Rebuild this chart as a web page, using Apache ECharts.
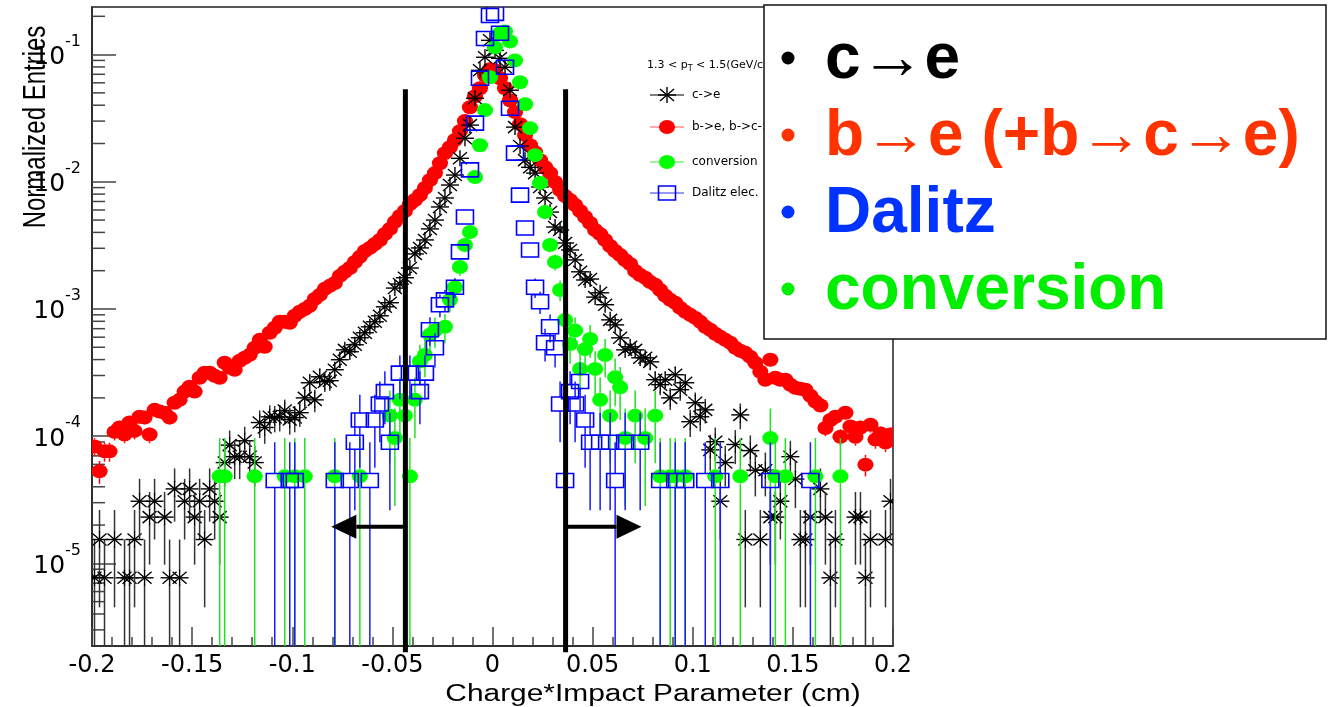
<!DOCTYPE html>
<html>
<head>
<meta charset="utf-8">
<title>Charge*Impact Parameter</title>
<script src="https://cdn.jsdelivr.net/npm/echarts@6/dist/echarts.min.js"></script>
<style>
    html, body { margin: 0; padding: 0; background: #fff; }
    #chart { width: 1331px; height: 707px; }
</style>
</head>
<body>
<div id="chart"></div>
<script>
// 160 bins of 0.0025 cm between -0.2 and 0.2
var binWidth = 0.0025;
var xRange = [-0.2, 0.2];
var yRange = [2.24e-6, 0.2367];

// c->e (black stars)
var charmValues = [
    7.7e-6, 1.54e-5, 7.7e-6, null, 1.54e-5, null, 7.7e-6, 7.7e-6, 1.54e-5, 3.08e-5,
    7.7e-6, 2.31e-5, 3.08e-5, null, 2.31e-5, 7.7e-6, 3.85e-5, 7.7e-6, 3.08e-5, 3.85e-5,
    2.31e-5, 3.08e-5, 1.54e-5, 3.85e-5, 3.08e-5, 2.31e-5, 6.2e-5, 8.5e-5, 6.9e-5, 6.9e-5,
    9.2e-5, 6.9e-5, 6.2e-5, 1.28e-4, 1.17e-4, 1.42e-4, 1.40e-4, 1.42e-4, 1.59e-4, 1.35e-4,
    1.40e-4, 1.53e-4, 2.0e-4, 2.63e-4, 1.93e-4, 2.93e-4, 2.68e-4, 2.73e-4, 3.33e-4, 3.99e-4,
    4.77e-4, 4.61e-4, 5.23e-4, 5.94e-4, 6.5e-4, 7.24e-4, 7.93e-4, 8.84e-4, 1.04e-3, 1.12e-3,
    1.46e-3, 1.57e-3, 1.76e-3, 2.10e-3, 2.71e-3, 3.02e-3, 3.49e-3, 4.26e-3, 5.0e-3, 6.34e-3,
    7.46e-3, 9.43e-3, 1.13e-2, 1.53e-2, 2.2e-2, 2.79e-2, 4.54e-2, 7.52e-2, 9.53e-2, 0.1295,
    0.108, 9.35e-2, 7.95e-2, 5.25e-2, 2.69e-2, 1.91e-2, 1.48e-2, 1.30e-2, 1.17e-2, 9.1e-3,
    7.46e-3, 5.78e-3, 4.41e-3, 4.18e-3, 3.30e-3, 2.91e-3, 2.43e-3, 1.96e-3, 1.69e-3, 1.72e-3,
    1.24e-3, 1.34e-3, 1.08e-3, 8.21e-4, 7.5e-4, 5.93e-4, 4.77e-4, 5.04e-4, 4.77e-4, 4.13e-4,
    4.13e-4, 3.84e-4, 2.78e-4, 2.54e-4, 2.78e-4, 2.0e-4, 3.04e-4, 2.32e-4, 2.63e-4, 1.30e-4,
    1.83e-4, 1.42e-4, 1.61e-4, 7.8e-5, 9.05e-5, 3.08e-5, 6.2e-5, null, 8.6e-5, 1.47e-4,
    1.54e-5, 7.7e-5, 5.4e-5, 1.54e-5, 5.4e-5, 2.31e-5, 2.31e-5, 3.08e-5, null, 6.9e-5,
    4.6e-5, 1.54e-5, 1.54e-5, 2.31e-5, null, 3.85e-5, 2.31e-5, 7.7e-6, 1.54e-5, null,
    null, null, 2.31e-5, 2.31e-5, 7.7e-6, 1.54e-5, null, null, 1.54e-5, 3.08e-5
];

// b->e, b->c->e (red circles)
var beautyValues = [
    8.3e-5, 5.3e-5, 7.6e-5, 7.6e-5, 1.08e-4, 1.17e-4, 1.03e-4, 1.28e-4, 1.10e-4, 1.42e-4,
    1.40e-4, 1.03e-4, 1.61e-4, 1.56e-4, 1.53e-4, 1.40e-4, 1.83e-4, 1.93e-4, 2.24e-4, 2.45e-4,
    2.24e-4, 2.88e-4, 3.15e-4, 3.15e-4, 2.98e-4, 2.88e-4, 3.78e-4, 3.45e-4, 3.33e-4, 3.92e-4,
    4.13e-4, 4.36e-4, 4.95e-4, 5.72e-4, 5.04e-4, 6.50e-4, 7.11e-4, 7.93e-4, 7.93e-4, 7.78e-4,
    8.84e-4, 9.50e-4, 1.00e-3, 1.06e-3, 1.20e-3, 1.29e-3, 1.44e-3, 1.52e-3, 1.60e-3, 1.82e-3,
    1.96e-3, 2.10e-3, 2.34e-3, 2.57e-3, 2.86e-3, 3.02e-3, 3.24e-3, 3.49e-3, 3.89e-3, 4.26e-3,
    4.84e-3, 5.39e-3, 5.90e-3, 6.69e-3, 7.19e-3, 7.87e-3, 8.93e-3, 1.03e-2, 1.17e-2, 1.40e-2,
    1.68e-2, 1.87e-2, 2.13e-2, 2.50e-2, 3.00e-2, 3.86e-2, 4.70e-2, 5.44e-2, 6.88e-2, 7.67e-2,
    7.53e-2, 6.52e-2, 5.44e-2, 4.38e-2, 3.53e-2, 2.84e-2, 2.33e-2, 1.94e-2, 1.71e-2, 1.48e-2,
    1.30e-2, 1.17e-2, 9.95e-3, 8.60e-3, 7.72e-3, 7.18e-3, 6.56e-3, 5.89e-3, 5.28e-3, 4.74e-3,
    4.18e-3, 3.88e-3, 3.49e-3, 3.13e-3, 2.86e-3, 2.66e-3, 2.43e-3, 2.26e-3, 1.99e-3, 1.85e-3,
    1.76e-3, 1.63e-3, 1.55e-3, 1.41e-3, 1.27e-3, 1.18e-3, 1.12e-3, 1.02e-3, 9.49e-4, 8.99e-4,
    8.51e-4, 7.92e-4, 7.24e-4, 6.86e-4, 6.38e-4, 6.04e-4, 5.72e-4, 5.42e-4, 4.95e-4, 4.69e-4,
    4.52e-4, 4.20e-4, 3.77e-4, 3.21e-4, 2.78e-4, 3.99e-4, 2.88e-4, 2.78e-4, 2.78e-4, 2.54e-4,
    2.40e-4, 2.36e-4, 2.32e-4, 2.08e-4, 1.87e-4, 1.74e-4, 1.16e-4, 1.34e-4, 1.42e-4, 9.9e-5,
    1.53e-4, 1.19e-4, 9.9e-5, 1.17e-4, 5.97e-5, 1.23e-4, 9.4e-5, 1.05e-4, 8.9e-5, 1.03e-4
];

// conversion (green circles)
var conversionValues = [
    null, null, null, null, null, null, null, null, null, null,
    null, null, null, null, null, null, null, null, null, null,
    null, null, null, null, null, 4.83e-5, 4.83e-5, null, null, null,
    null, null, 4.83e-5, null, null, null, null, null, 4.83e-5, null,
    4.83e-5, null, 4.83e-5, null, null, null, null, null, 4.83e-5, null,
    null, null, null, 4.83e-5, null, null, null, null, null, 1.45e-4,
    9.66e-5, 1.93e-4, 1.45e-4, 4.83e-5, 1.93e-4, 3.86e-4, 4.35e-4, 6.28e-4, 6.76e-4, null,
    7.25e-4, 1.18e-3, 1.48e-3, 2.14e-3, 3.18e-3, 4.03e-3, 1.09e-2, 1.94e-2, 3.66e-2, 6.63e-2,
    0.114, 0.147, 0.152, 0.127, 9.0e-2, 6.06e-2, 4.07e-2, 2.64e-2, 1.62e-2, 9.8e-3,
    5.78e-3, 3.18e-3, 2.34e-3, 1.41e-3, 8.2e-4, 5.31e-4, 6.76e-4, 3.38e-4, 4.83e-4, 5.8e-4,
    3.38e-4, 1.93e-4, 4.35e-4, 1.45e-4, 2.9e-4, 2.42e-4, 9.66e-5, null, 1.45e-4, null,
    9.66e-5, null, 1.45e-4, 4.83e-5, null, 4.83e-5, 4.83e-5, null, 4.83e-5, null,
    null, null, null, null, 4.83e-5, null, null, null, null, 4.83e-5,
    null, null, null, null, null, 9.66e-5, 4.83e-5, null, 4.83e-5, null,
    null, null, null, null, 4.83e-5, null, null, null, null, 4.83e-5,
    null, null, null, null, null, null, null, null, null, null
];

// Dalitz elec. (blue open squares)
var dalitzValues = [
    null, null, null, null, null, null, null, null, null, null,
    null, null, null, null, null, null, null, null, null, null,
    null, null, null, null, null, null, null, null, null, null,
    null, null, null, null, null, null, 4.48e-5, null, null, 4.48e-5,
    4.48e-5, null, null, null, null, null, null, null, 4.48e-5, null,
    null, 4.48e-5, 8.95e-5, 1.34e-4, null, 4.48e-5, 1.34e-4, 1.79e-4, 2.24e-4, 8.95e-5,
    null, 3.13e-4, null, 3.13e-4, null, 2.24e-4, 3.13e-4, 6.86e-4, 4.95e-4, 1.08e-3,
    1.18e-3, null, 1.48e-3, 2.81e-3, 5.28e-3, 1.24e-2, 2.89e-2, 6.52e-2, 0.134, 0.203,
    0.211, 0.147, 7.95e-2, 3.79e-2, 1.68e-2, 7.86e-3, 4.33e-3, 2.91e-3, 1.48e-3, 1.14e-3,
    5.42e-4, 7.24e-4, 4.95e-4, 1.79e-4, 4.48e-5, 2.24e-4, 1.79e-4, 2.69e-4, 1.34e-4, 8.95e-5,
    null, 8.95e-5, null, 8.95e-5, 4.48e-5, null, 8.95e-5, null, null, 8.95e-5,
    null, null, null, 4.48e-5, null, null, 4.48e-5, null, 4.48e-5, null,
    null, null, 4.48e-5, null, null, 4.48e-5, null, null, null, null,
    null, null, null, null, null, 4.48e-5, null, null, null, null,
    null, null, null, 4.48e-5, null, null, null, null, null, null,
    null, null, null, null, null, null, null, null, null, null
];

// weight of a single entry in each histogram, for the statistical error bars
var charmWeight = 7.7e-6;
var beautyWeight = 2.2e-6;
var conversionWeight = 4.83e-5;
var dalitzWeight = 4.48e-5;

// cut lines and the arrows pointing outwards
var cutLines = [-0.0435, 0.0365];
var cutArrowTips = [-0.0805, 0.0744];
var cutTop = 0.0534;
var cutBottom = 2.0e-6;
var cutArrowLevel = 1.94e-5;

var xTitle = 'Charge*Impact Parameter (cm)';
var yTitle = 'Normalized Entries';
var legendHeader = '1.3 < p{sub|T} < 1.5(GeV/c)';
var legendNames = ['c->e', 'b->e, b->c->e', 'conversion', 'Dalitz elec.'];
var boxLines = ['c\u2192e', 'b\u2192e (+b\u2192c\u2192e)', 'Dalitz', 'conversion'];
var boxColors = ['#000000', '#ff3300', '#0033ff', '#00ee00'];


var impactChart = {
    init: function () {
        var binCenters = [];
        for (var i = 0; i < charmValues.length; i++) {
            binCenters.push(+(xRange[0] + (i + 0.5) * binWidth).toFixed(5));
        }

        function toPoints(values) {
            var pts = [];
            for (var k = 0; k < values.length; k++) {
                if (values[k] != null) pts.push([binCenters[k], values[k]]);
            }
            return pts;
        }

        // minor ticks of the log axis (2..9 x 10^n)
        var minorTicks = [];
        for (var n = -6; n <= -1; n++) {
            for (var m = 2; m <= 9; m++) {
                var t = m * Math.pow(10, n);
                if (t > yRange[0] && t < yRange[1]) minorTicks.push([xRange[0], t]);
            }
        }

        var option = {
            animation: false,
            backgroundColor: '#fff',
            grid: {
                left: 92, right: 438, top: 7, bottom: 61,
                show: true, borderColor: '#222', borderWidth: 1.5,
                outerBoundsMode: 'none'
            },
            xAxis: {
                type: 'value',
                min: xRange[0], max: xRange[1], interval: 0.05,
                axisLine: { onZero: false, lineStyle: { color: '#222', width: 1.5 } },
                axisTick: { inside: true, length: 19, lineStyle: { color: '#444', width: 1.5 } },
                minorTick: { show: true, splitNumber: 5, length: 9, lineStyle: { color: '#444', width: 1.5 } },
                splitLine: { show: false },
                axisLabel: { margin: 8, color: '#000', fontSize: 24, fontFamily: 'DejaVu Sans' }
            },
            yAxis: {
                type: 'log', logBase: 10,
                min: yRange[0], max: yRange[1],
                axisLine: { onZero: false, lineStyle: { color: '#222', width: 1.5 } },
                axisTick: { inside: true, length: 24, lineStyle: { color: '#444', width: 1.5 } },
                splitLine: { show: false },
                axisLabel: {
                    margin: 11, showMinLabel: false, showMaxLabel: false,
                    formatter: function (v) {
                        return '{b|10}{s|' + Math.round(Math.log10(v)) + '}';
                    },
                    rich: {
                        b: { fontSize: 25, fontFamily: 'DejaVu Sans', color: '#000', padding: [6, 0, 0, 0] },
                        s: { fontSize: 16, fontFamily: 'DejaVu Sans', color: '#000', padding: [0, 0, 26, 0] }
                    }
                }
            },
            graphic: this.buildGraphic(),
            series: [
                {
                    type: 'custom', name: 'minor', silent: true, clip: false,
                    data: minorTicks, encode: { x: 0, y: 1 },
                    renderItem: function (params, api) {
                        var p = api.coord([api.value(0), api.value(1)]);
                        return { type: 'line', shape: { x1: p[0], y1: p[1], x2: p[0] + 13, y2: p[1] },
                            style: { stroke: '#444', lineWidth: 1.5 } };
                    }
                },
                this.histSeries(legendNames[1], toPoints(beautyValues), 'circle', '#ff0000', '#ff0000', beautyWeight),
                this.histSeries(legendNames[0], toPoints(charmValues), 'star', '#000000', '#333333', charmWeight),
                this.histSeries(legendNames[2], toPoints(conversionValues), 'circle', '#00ff00', '#22e022', conversionWeight),
                this.histSeries(legendNames[3], toPoints(dalitzValues), 'square', '#0000ff', '#1a1aff', dalitzWeight),
                {
                    type: 'custom', name: 'cuts', silent: true, clip: false,
                    data: cutLines.map(function (x, idx) { return [x, cutTop, cutArrowTips[idx]]; }),
                    encode: { x: [0, 2], y: 1 },
                    renderItem: function (params, api) {
                        var lx = api.value(0);
                        var top = api.coord([lx, cutTop]);
                        var bot = api.coord([lx, cutBottom]);
                        var start = api.coord([lx, cutArrowLevel]);
                        var tip = api.coord([api.value(2), cutArrowLevel]);
                        var dir = tip[0] < start[0] ? -1 : 1;
                        var base = tip[0] - dir * 25;
                        return {
                            type: 'group',
                            children: [
                                { type: 'line', shape: { x1: top[0], y1: top[1], x2: bot[0], y2: bot[1] },
                                    style: { stroke: '#000', lineWidth: 5 } },
                                { type: 'line', shape: { x1: start[0], y1: start[1], x2: base, y2: start[1] },
                                    style: { stroke: '#000', lineWidth: 4 } },
                                { type: 'polygon', shape: { points: [[tip[0], tip[1]], [base, tip[1] - 12], [base, tip[1] + 12]] },
                                    style: { fill: '#000' } }
                            ]
                        };
                    }
                }
            ]
        };

        var chart = echarts.init(document.getElementById('chart'));
        chart.setOption(option);
    },

    marker: function (kind, cx, cy, color) {
        if (kind === 'circle') {
            return [{ type: 'circle', x: cx, y: cy, scaleX: 1.15, shape: { cx: 0, cy: 0, r: 7 }, style: { fill: color } }];
        }
        if (kind === 'square') {
            return [{ type: 'rect', shape: { x: cx - 8.5, y: cy - 7, width: 17, height: 14 },
                style: { fill: 'none', stroke: color, lineWidth: 1.6 } }];
        }
        var segs = [[-9, 0, 9, 0], [0, -8, 0, 8], [-7, -6, 7, 6], [-7, 6, 7, -6]];
        return segs.map(function (s) {
            return { type: 'line', shape: { x1: cx + s[0], y1: cy + s[1], x2: cx + s[2], y2: cy + s[3] },
                style: { stroke: color, lineWidth: 1.4 } };
        });
    },

    histSeries: function (name, points, kind, color, barColor, weight) {
        var self = this;
        return {
            type: 'custom', name: name, clip: true,
            data: points, encode: { x: 0, y: 1 },
            renderItem: function (params, api) {
                var x = api.value(0), v = api.value(1);
                var c = api.coord([x, v]);
                var err = Math.sqrt(v * weight);
                var hi = api.coord([x, Math.min(v + err, yRange[1])]);
                var lo = api.coord([x, Math.max(v - err, yRange[0])]);
                var half = 7;
                var children = [];
                if (hi[1] < c[1] - half) {
                    children.push({ type: 'line', shape: { x1: c[0], y1: hi[1], x2: c[0], y2: c[1] - half },
                        style: { stroke: barColor, lineWidth: 1.5 } });
                }
                if (lo[1] > c[1] + half) {
                    children.push({ type: 'line', shape: { x1: c[0], y1: c[1] + half, x2: c[0], y2: lo[1] },
                        style: { stroke: barColor, lineWidth: 1.5 } });
                }
                return { type: 'group', children: children.concat(self.marker(kind, c[0], c[1], color)) };
            }
        };
    },

    buildGraphic: function () {
        var els = [];
        var self = this;

        // axis titles (ROOT text is stretched horizontally)
        els.push({ type: 'text', x: 653, y: 706, scaleX: 1.3, z: 10,
            style: { text: xTitle, font: '23px "Liberation Sans"', fill: '#000',
                align: 'center', verticalAlign: 'bottom', textAlign: 'center', textVerticalAlign: 'bottom' } });
        els.push({ type: 'text', x: 52, y: 127, rotation: Math.PI / 2, scaleY: 1.27, z: 10,
            style: { text: yTitle, font: '24px "Liberation Sans"', fill: '#000',
                align: 'center', verticalAlign: 'bottom', textAlign: 'center', textVerticalAlign: 'bottom' } });

        // small ROOT legend
        els.push({ type: 'text', x: 647, y: 65, z: 50,
            style: { text: legendHeader, font: '11px "DejaVu Sans"', fill: '#000',
                align: 'left', verticalAlign: 'middle', textAlign: 'left', textVerticalAlign: 'middle',
                rich: { sub: { fontSize: 8, fontFamily: 'DejaVu Sans', padding: [8, 0, 0, 0] } } } });
        var rowsY = [95, 127, 162, 193];
        var kinds = ['star', 'circle', 'circle', 'square'];
        var colors = ['#000000', '#ff0000', '#00ff00', '#0000ff'];
        var lineColors = ['#000000', '#ff5555', '#33ee33', '#3333ff'];
        for (var i = 0; i < rowsY.length; i++) {
            els.push({ type: 'line', z: 50, shape: { x1: 650, y1: rowsY[i], x2: 684, y2: rowsY[i] },
                style: { stroke: lineColors[i], lineWidth: 1.2 } });
            self.marker(kinds[i], 667, rowsY[i], colors[i]).forEach(function (m) {
                m.z = 50;
                els.push(m);
            });
            els.push({ type: 'text', x: 692, y: rowsY[i], z: 50,
                style: { text: legendNames[i], font: '12px "DejaVu Sans"', fill: '#000',
                    align: 'left', verticalAlign: 'middle', textAlign: 'left', textVerticalAlign: 'middle' } });
        }

        // big overlay box
        els.push({ type: 'rect', z: 100, shape: { x: 764, y: 5, width: 562, height: 334 },
            style: { fill: '#fff', stroke: '#111', lineWidth: 1.5 } });
        var boxY = [60, 137, 214, 291];
        for (var j = 0; j < boxLines.length; j++) {
            els.push({ type: 'circle', z: 101, shape: { cx: 788, cy: boxY[j] - 2, r: 6.5 }, style: { fill: boxColors[j] } });
            els.push({ type: 'text', x: 825, y: boxY[j], z: 101,
                style: { text: boxLines[j], font: 'bold 64px "Liberation Sans"', fill: boxColors[j],
                    align: 'left', verticalAlign: 'middle', textAlign: 'left', textVerticalAlign: 'middle' } });
        }
        return els;
    }
};

try {
    impactChart.init();
} catch (e) {
    console.error(e);
}
</script>
</body>
</html>
